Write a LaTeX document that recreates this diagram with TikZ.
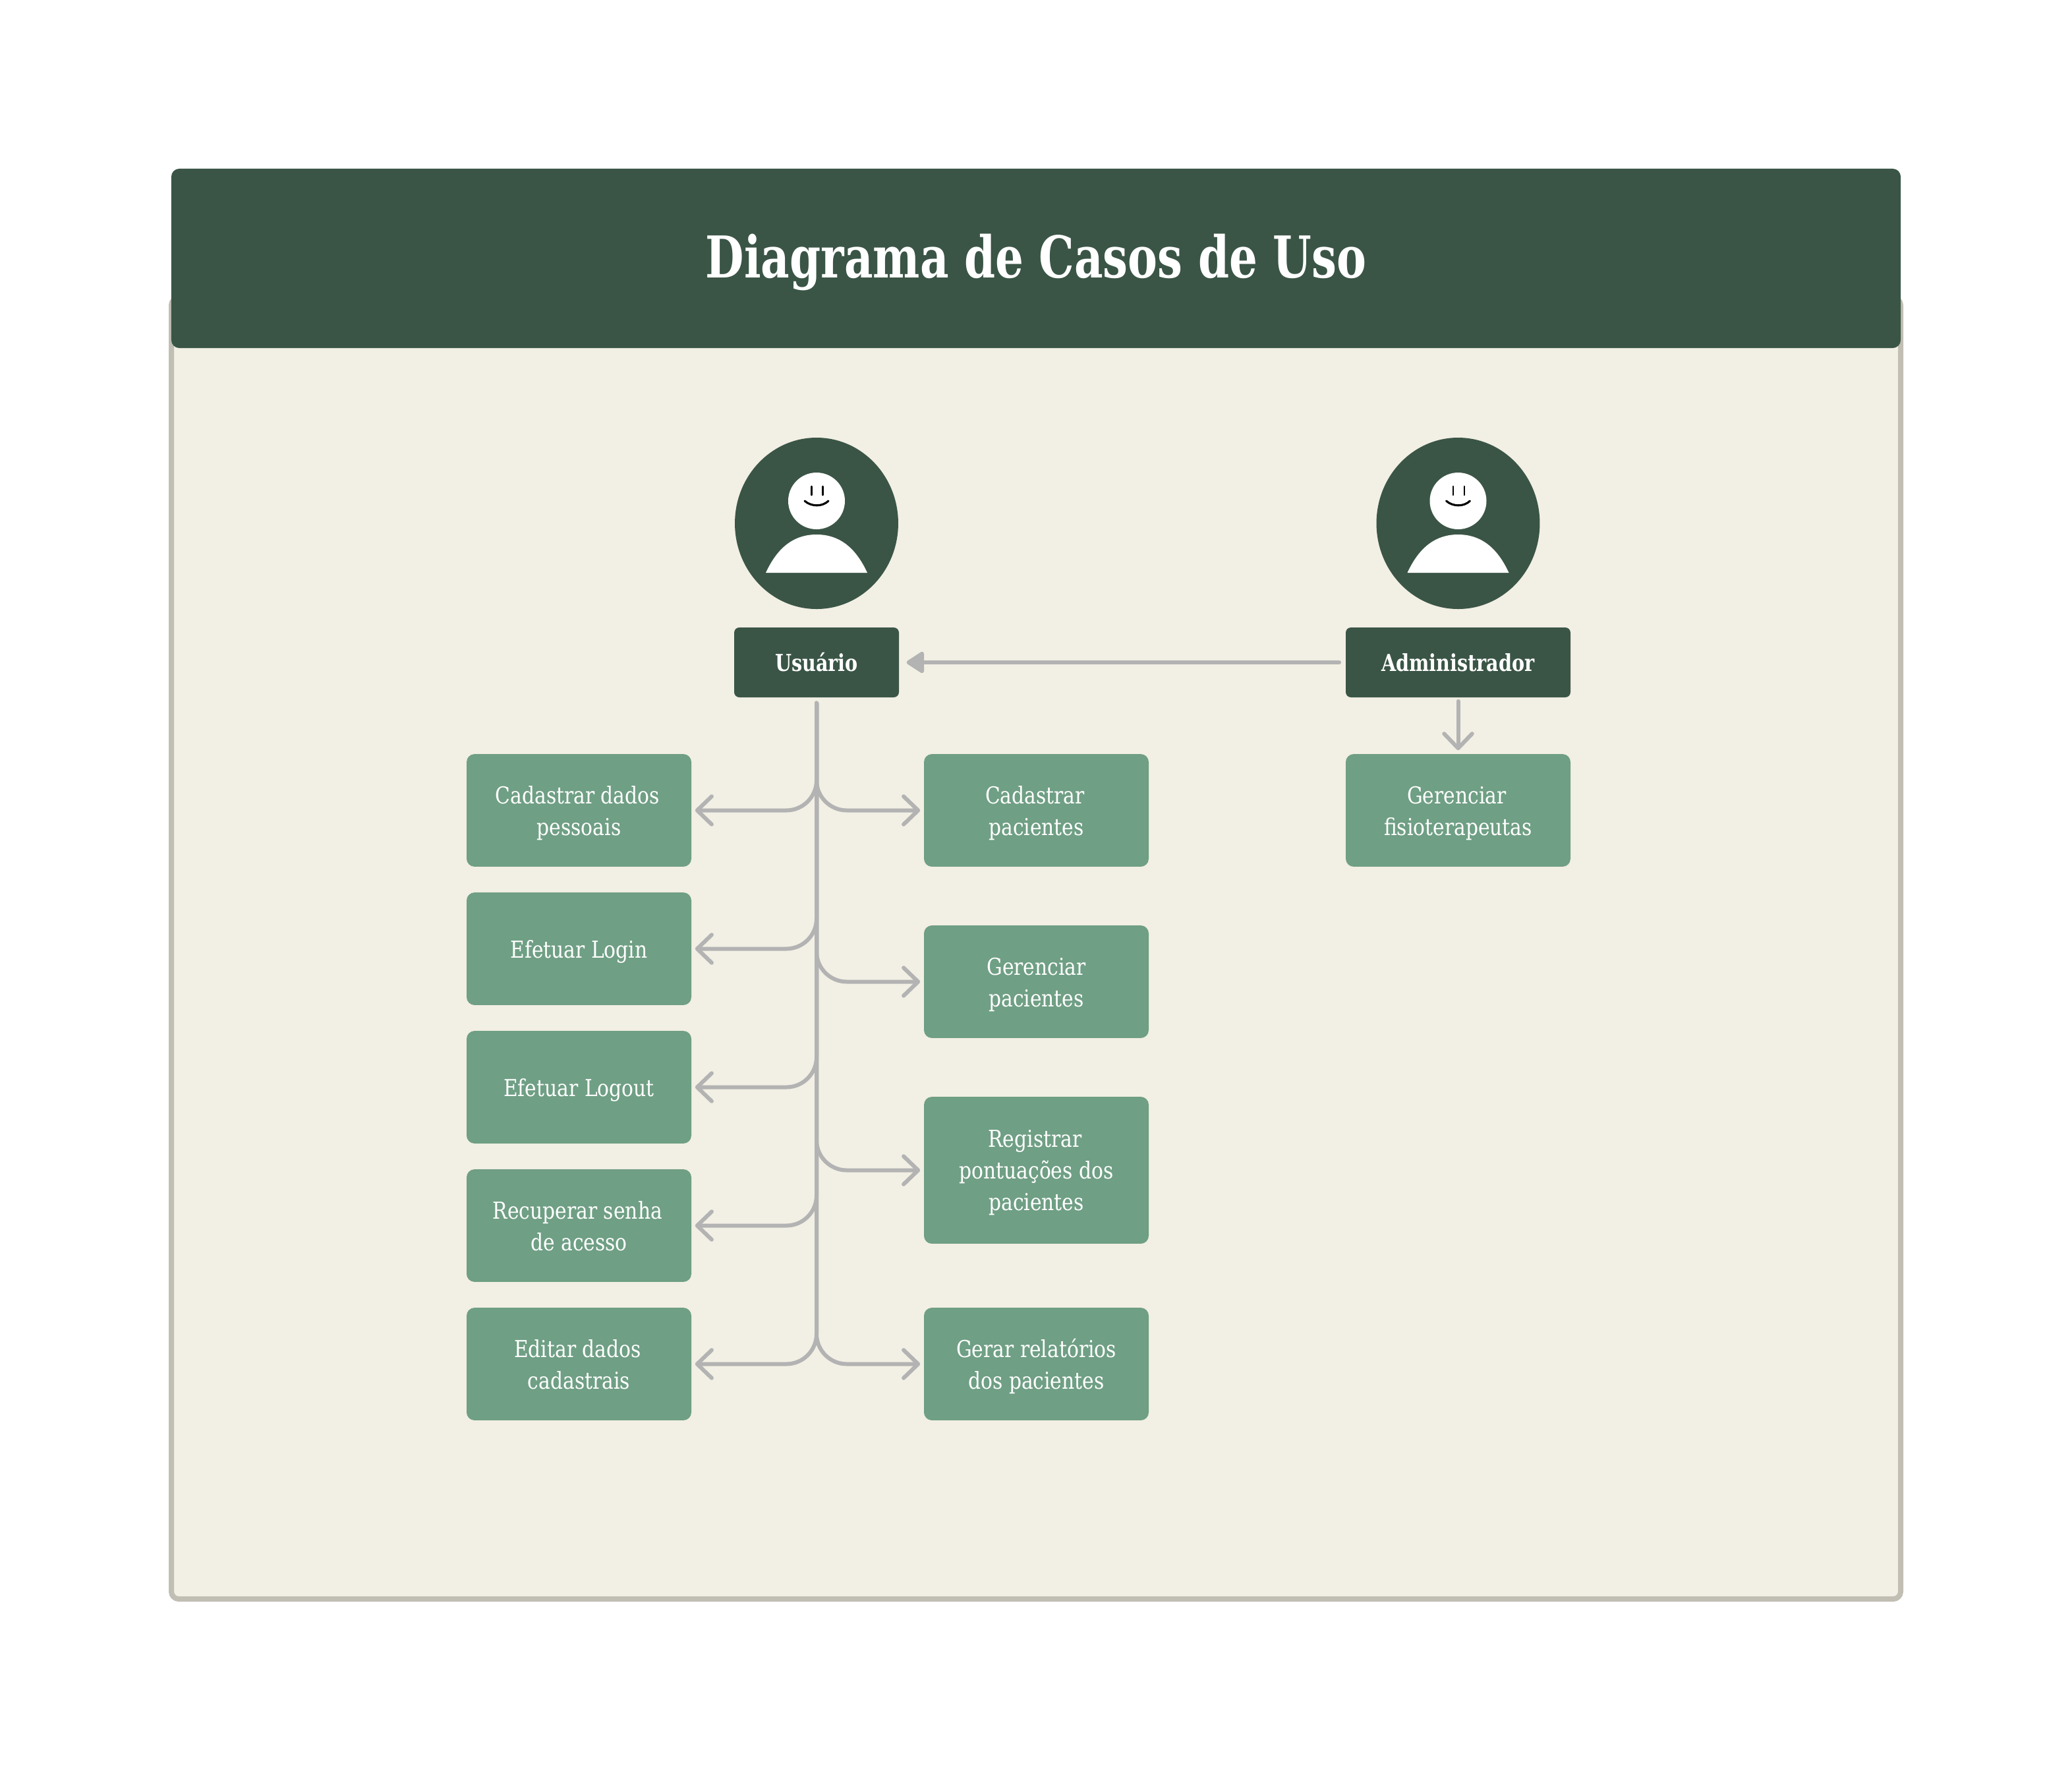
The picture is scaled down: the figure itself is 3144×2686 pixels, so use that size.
\documentclass[tikz,border=0pt]{standalone}
\usepackage{fontspec}
\setmainfont[FakeStretch=0.84,BoldFeatures={FakeStretch=0.81}]{DejaVu Serif}
\newfontfamily\titlefont[BoldFeatures={FakeStretch=0.77}]{DejaVu Serif}
\usetikzlibrary{arrows.meta,shapes.geometric}
\definecolor{darkgreen}{HTML}{3A5546}
\definecolor{midgreen}{HTML}{6F9F84}
\definecolor{cream}{HTML}{F2EFE4}
\definecolor{frameline}{HTML}{C1BEB3}
\definecolor{linkgrey}{HTML}{B3B3B3}
\newcommand{\tsp}{\hspace*{1pt}}
\tikzset{
  x=0.24pt,y=-0.24pt,
  lift/.style={execute at begin node={\rule{0pt}{#1}}},
  usecase/.style={fill=midgreen,text=white,rounded corners=2.9pt,minimum width=81.84pt,inner sep=0pt,align=center,font=\fontsize{8.5}{11.55}\selectfont,execute at end node={\rule[-3pt]{0pt}{3pt}}},
  caseone/.style={usecase,minimum height=41pt,lift=9.5pt},
  casetwo/.style={usecase,minimum height=41pt,lift=21.4pt},
  casethree/.style={usecase,minimum height=53.5pt,lift=32.5pt},
  actorbox/.style={fill=darkgreen,text=white,rounded corners=1.9pt,inner sep=0pt,minimum height=25.44pt,align=center,font=\fontsize{8.5}{11.55}\selectfont\bfseries,lift=9.5pt,execute at end node={\rule[-3pt]{0pt}{3pt}}},
  avatar/.style={ellipse,fill=darkgreen,inner sep=0pt,minimum width=59.5pt,minimum height=62.4pt},
  conn/.style={draw=linkgrey,line width=1.44pt,line cap=round,line join=round},
  branch/.style={conn,rounded corners=11pt,shorten <=1.9pt,shorten >=1.2pt,-{Straight Barb[length=5.3pt,width=10.2pt,round]}},
  solidhead/.style={conn,shorten <=2.2pt,shorten >=2.6pt,-{Triangle[length=7pt,width=8.6pt,round]}},
}
\newcommand{\person}[2]{%
  \node[avatar] (#2) at (#1,794) {};
  \fill[white] (#1,760) circle[radius=43];
  \fill[white] (#1-77,869) .. controls (#1-59,830) and (#1-34,811) .. (#1,811) .. controls (#1+34,811) and (#1+59,830) .. (#1+77,869) -- cycle;
  \draw[black,line width=0.7pt,line cap=round] (#1-7.5,738) -- (#1-7.5,751);
  \draw[black,line width=0.7pt,line cap=round] (#1+9.5,738) -- (#1+9.5,751);
  \draw[black,line width=0.75pt,line cap=round] (#1-18,760) .. controls (#1-8,769) and (#1+9,769) .. (#1+18,760);
}
\begin{document}
\begin{tikzpicture}
\useasboundingbox (0,0) rectangle (3144,2686);
% frame
\draw[draw=frameline,fill=cream,line width=1.92pt,rounded corners=2.7pt] (260,452) rectangle (2884,2426);
\node[fill=darkgreen,rounded corners=2.9pt,minimum width=629.8pt,minimum height=65.3pt,inner sep=0pt,text=white,align=center,font=\titlefont\fontsize{21}{24}\selectfont\bfseries,execute at begin node={\rule{0pt}{20pt}},execute at end node={\rule[-6pt]{0pt}{6pt}}] (title) at (1572,392) {Diagrama de Casos de Uso};
% actors
\person{1239}{avU}
\person{2212.5}{avA}
\node[actorbox,minimum width=60pt] (usuario) at (1239,1005) {Usuário};
\node[actorbox,minimum width=81.84pt] (admin) at (2212.5,1005) {Administrador};
% use cases left
\node[casetwo] (l1) at (878.5,1229.5) {Cadastrar dados\tsp\\pessoais};
\node[caseone] (l2) at (878.5,1439.5) {Efetuar Login};
\node[caseone] (l3) at (878.5,1649.5) {Efetuar Logout};
\node[casetwo] (l4) at (878.5,1859.5) {Recuperar senha\tsp\\de acesso};
\node[casetwo] (l5) at (878.5,2069.5) {Editar dados\tsp\\cadastrais};
% use cases right
\node[casetwo] (r1) at (1572.5,1229.5) {Cadastrar\tsp\\pacientes};
\node[casetwo] (r2) at (1572.5,1489.5) {Gerenciar\\pacientes};
\node[casethree] (r3) at (1572.5,1775.5) {Registrar\tsp\\pontuações dos\tsp\\pacientes};
\node[casetwo] (r4) at (1572.5,2069.5) {Gerar relatórios\\dos pacientes};
\node[casetwo] (g1) at (2212.5,1229.5) {Gerenciar\tsp\\fisioterapeutas};
% connectors
\foreach \t in {l1,l2,l3,l4,l5,r1,r2,r3,r4}{
  \draw[branch] (usuario.south) |- (\t);
}
\draw[solidhead] (admin.west) -- (usuario.east);
\draw[conn,shorten <=1.2pt,shorten >=1.2pt,-{Straight Barb[length=5.3pt,width=10.2pt,round]}] (admin.south) -- (g1.north);
\end{tikzpicture}
\end{document}
